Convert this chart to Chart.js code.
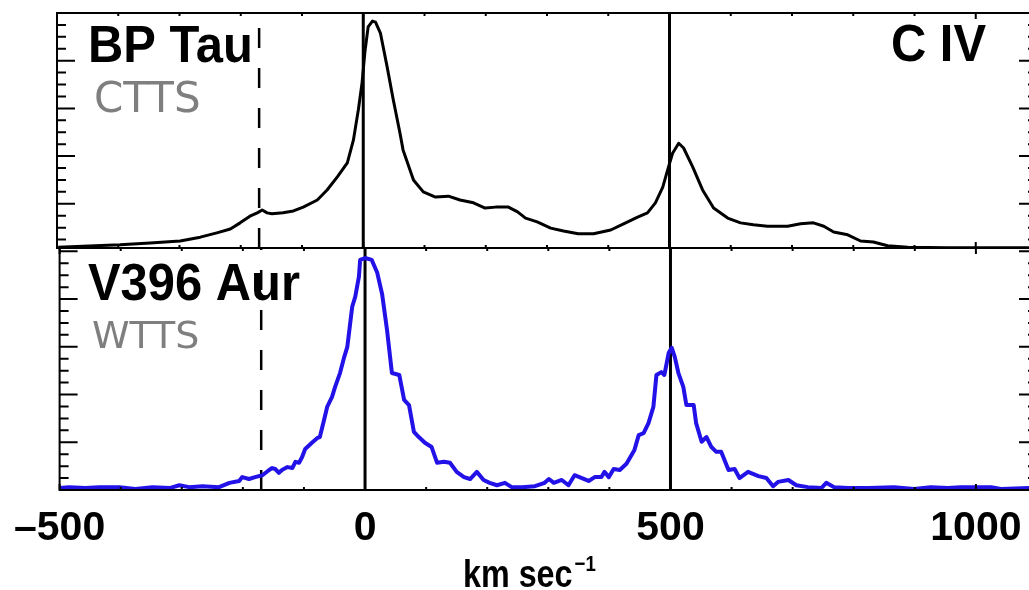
<!DOCTYPE html>
<html>
<head>
<meta charset="utf-8">
<script src="https://cdn.jsdelivr.net/npm/chart.js@4.4.1/dist/chart.umd.min.js"></script>
<style>
  html, body { margin: 0; padding: 0; background: #fff; overflow: hidden; width: 1029px; height: 590px; }
  #wrap { position: relative; width: 1040px; height: 590px; }
  #top { position: absolute; left: 0; top: 0; }
  #bot { position: absolute; left: 0; top: 240px; }
</style>
</head>
<body>
<div id="wrap">
  <canvas id="bot" width="1040" height="350"></canvas>
  <canvas id="top" width="1040" height="260"></canvas>
</div>
<script>
// velocity axis (km/s)
const xMin = -500;
const xMax = 1100;
const xTicks = [-500, 0, 500, 1000];
const restVel = [0, 500];
const markVel = -170;

// BP Tau (CTTS), C IV profile
const velBP = [-498, -397, -348, -299, -266, -239, -217, -201, -185, -173, -165, -157, -149, -131, -114, -98,
  -75, -59, -42, -26, -16, -8, -2, 3, 8, 15, 20, 28, 39, 49, 60, 65, 82, 98, 118, 139, 158, 180, 199, 216,
  237, 252, 265, 284, 306, 327, 351, 376, 404, 425, 448, 464, 477, 489, 497, 505, 515, 523, 538, 554, 572,
  595, 616, 637, 660, 693, 714, 735, 752, 768, 791, 812, 833, 856, 889, 954, 1008, 1087];
const fluxBP = [0.09, 0.14, 0.18, 0.22, 0.30, 0.39, 0.47, 0.60, 0.74, 0.81, 0.87, 0.81, 0.79, 0.81, 0.85, 0.93,
  1.08, 1.29, 1.57, 1.86, 2.34, 2.97, 3.53, 4.22, 4.71, 4.83, 4.81, 4.58, 3.87, 3.18, 2.48, 2.13, 1.50, 1.25, 1.14, 1.16, 1.08, 1.02, 0.91, 0.93,
  0.93, 0.83, 0.70, 0.62, 0.49, 0.43, 0.37, 0.37, 0.45, 0.58, 0.72, 0.81, 1.02, 1.35, 1.71, 2.06, 2.27, 2.17, 1.77, 1.29, 0.91,
  0.70, 0.60, 0.56, 0.53, 0.53, 0.58, 0.60, 0.53, 0.41, 0.35, 0.22, 0.20, 0.12, 0.09, 0.08, 0.08, 0.08];

// V396 Aur (WTTS), C IV profile
const velV396 = [-500, -484, -458, -435, -402, -376, -348, -320, -304, -288, -266, -239, -222, -206, -201, -190,
  -180, -168, -157, -152, -147, -141, -136, -127, -119, -114, -108, -103, -98, -87, -78, -74, -67, -62, -54,
  -49, -41, -34, -29, -25, -21, -16, -10, -8, 0, 11, 20, 28, 36, 44, 56, 64, 72, 80, 88, 98, 109, 118, 129,
  139, 150, 162, 172, 183, 194, 204, 216, 229, 240, 257, 278, 294, 301, 309, 322, 333, 343, 355, 366, 376,
  387, 392, 399, 407, 417, 428, 441, 448, 456, 464, 472, 477, 485, 490, 497, 502, 507, 513, 521, 526, 538,
  542, 551, 559, 567, 575, 583, 595, 605, 613, 627, 644, 657, 668, 676, 693, 706, 725, 747, 755, 768, 791,
  824, 866, 899, 926, 954, 975, 1008, 1025, 1041, 1087];
const fluxV396 = [0.04, 0.06, 0.04, 0.06, 0.06, 0.02, 0.06, 0.04, 0.10, 0.06, 0.08, 0.06, 0.15, 0.19, 0.27, 0.23,
  0.27, 0.31, 0.42, 0.46, 0.44, 0.36, 0.42, 0.48, 0.46, 0.59, 0.57, 0.69, 0.86, 0.99, 1.09, 1.11, 1.47, 1.74, 1.95,
  2.16, 2.45, 2.79, 3.00, 3.42, 3.84, 4.05, 4.47, 4.82, 4.86, 4.82, 4.55, 4.10, 3.35, 2.45, 2.41, 1.89, 1.78, 1.22, 1.11, 0.99, 0.90, 0.57, 0.59,
  0.57, 0.38, 0.27, 0.23, 0.38, 0.21, 0.15, 0.10, 0.15, 0.06, 0.06, 0.08, 0.15, 0.23, 0.15, 0.21, 0.10, 0.31, 0.25, 0.19, 0.27,
  0.27, 0.38, 0.27, 0.44, 0.42, 0.55, 0.84, 1.15, 1.19, 1.40, 1.74, 2.41, 2.47, 2.41, 2.87, 2.98, 2.79, 2.45, 2.16, 1.78, 1.78,
  1.40, 1.01, 1.11, 0.90, 0.80, 0.80, 0.42, 0.44, 0.25, 0.38, 0.29, 0.25, 0.08, 0.17, 0.21, 0.10, 0.06, 0.04, 0.15, 0.06, 0.04,
  0.04, 0.06, 0.02, 0.06, 0.04, 0.06, 0.06, 0.06, 0.02, 0.04];

const yRangeTop = [0.073, 5];
const yRangeBot = [0, 5.07];

function pairs(xs, ys) {
  return xs.map((v, i) => ({ x: v, y: ys[i] }));
}
function vline(v, r) {
  return [{ x: v, y: r[0] }, { x: v, y: r[1] }];
}

const boldFont = '"Liberation Sans", Arial, sans-serif';
const grayFont = '"DejaVu Sans", sans-serif';

// text squeezed a little sideways, like the narrow postscript font of the original
function drawText(ctx, text, x, y, font, color, align, sx) {
  ctx.save();
  ctx.font = font;
  ctx.fillStyle = color;
  ctx.textAlign = align || 'left';
  ctx.textBaseline = 'alphabetic';
  ctx.translate(x, y);
  ctx.scale(sx || 1, 1);
  ctx.fillText(text, 0, 0);
  const w = ctx.measureText(text).width * (sx || 1);
  ctx.restore();
  return w;
}

// box, inward ticks and panel labels
const framePlugin = {
  id: 'frame',
  afterDatasetsDraw(chart, args, opts) {
    const ctx = chart.ctx;
    const a = chart.chartArea;
    const xs = chart.scales.x;
    const ys = chart.scales.y;
    ctx.save();
    ctx.strokeStyle = '#000';
    ctx.lineWidth = 2;
    ctx.beginPath();
    for (let k = Math.ceil(ys.min * 4); k <= Math.floor(ys.max * 4); k++) {
      const py = ys.getPixelForValue(k / 4);
      const len = k % 4 === 0 ? 18 : 9;
      ctx.moveTo(a.left, py); ctx.lineTo(a.left + len, py);
      ctx.moveTo(a.right, py); ctx.lineTo(a.right - len, py);
    }
    for (let v = xMin; v <= xMax; v += 100) {
      const px = xs.getPixelForValue(v);
      const len = v % 500 === 0 ? 6 : 3;
      ctx.moveTo(px, a.top); ctx.lineTo(px, a.top + len);
      ctx.moveTo(px, a.bottom); ctx.lineTo(px, a.bottom - len);
    }
    ctx.stroke();
    ctx.strokeRect(a.left, a.top, a.right - a.left, a.bottom - a.top);
    ctx.restore();

    for (const t of opts.texts || []) {
      drawText(ctx, t.text, t.x, t.y, t.font, t.color, t.align, t.sx);
    }
    if (opts.title) {
      const t = opts.title;
      const w = drawText(ctx, t.text, t.x, t.y, 'bold 38px ' + boldFont, '#000', 'left', 0.85);
      drawText(ctx, t.sup, t.x + w + 2, t.y - 16, 'bold 22px ' + boldFont, '#000', 'left', 0.85);
    }
  }
};

function panelDatasets(vel, flux, color, width, yr) {
  const ds = [{
    data: pairs(vel, flux),
    borderColor: color,
    borderWidth: width,
    pointRadius: 0,
    borderJoinStyle: 'round'
  }];
  restVel.forEach(v => ds.push({
    data: vline(v, yr),
    borderColor: '#000',
    borderWidth: 3,
    pointRadius: 0
  }));
  ds.push({
    data: vline(markVel, yr),
    borderColor: '#000',
    borderWidth: 2.5,
    borderDash: [20, 20],
    pointRadius: 0
  });
  return ds;
}

new Chart(document.getElementById('top').getContext('2d'), {
  type: 'line',
  data: { datasets: panelDatasets(velBP, fluxBP, '#000', 3, yRangeTop) },
  options: {
    responsive: false,
    animation: false,
    layout: { padding: { left: 57, right: 3, top: 13, bottom: 12 } },
    scales: {
      x: { type: 'linear', min: xMin, max: xMax, display: false },
      y: { type: 'linear', min: yRangeTop[0], max: yRangeTop[1], display: false }
    },
    plugins: {
      legend: { display: false },
      tooltip: { enabled: false },
      frame: {
        texts: [
          { text: 'BP Tau', x: 88, y: 62, font: 'bold 52px ' + boldFont, color: '#000', sx: 0.94 },
          { text: 'CTTS', x: 94, y: 112, font: '42px ' + grayFont, color: '#7f7f7f' },
          { text: 'C IV', x: 986, y: 61, font: 'bold 52px ' + boldFont, color: '#000', align: 'right', sx: 0.94 }
        ]
      }
    }
  },
  plugins: [framePlugin]
});

new Chart(document.getElementById('bot').getContext('2d'), {
  type: 'line',
  data: { datasets: panelDatasets(velV396, fluxV396, '#2212e8', 4, yRangeBot) },
  options: {
    responsive: false,
    animation: false,
    layout: { padding: { left: 57, right: 3, top: 8, bottom: 0 } },
    scales: {
      x: {
        type: 'linear', min: xMin, max: xMax,
        afterBuildTicks: s => { s.ticks = xTicks.map(v => ({ value: v })); },
        afterFit: s => { s.height = 100; },
        grid: { display: false, drawTicks: false },
        border: { display: false },
        ticks: {
          padding: 14,
          color: '#000',
          maxRotation: 0,
          autoSkip: false,
          font: { family: boldFont, size: 41, weight: 'bold' },
          callback: v => v < 0 ? '\u2013' + Math.abs(v) : String(v)
        }
      },
      y: { type: 'linear', min: yRangeBot[0], max: yRangeBot[1], display: false }
    },
    plugins: {
      legend: { display: false },
      tooltip: { enabled: false },
      frame: {
        texts: [
          { text: 'V396 Aur', x: 88, y: 60, font: 'bold 52px ' + boldFont, color: '#000', sx: 0.94 },
          { text: 'WTTS', x: 92, y: 108, font: '38px ' + grayFont, color: '#7f7f7f' }
        ],
        title: { text: 'km sec', sup: '\u22121', x: 463, y: 347 }
      }
    }
  },
  plugins: [framePlugin]
});
</script>
</body>
</html>
